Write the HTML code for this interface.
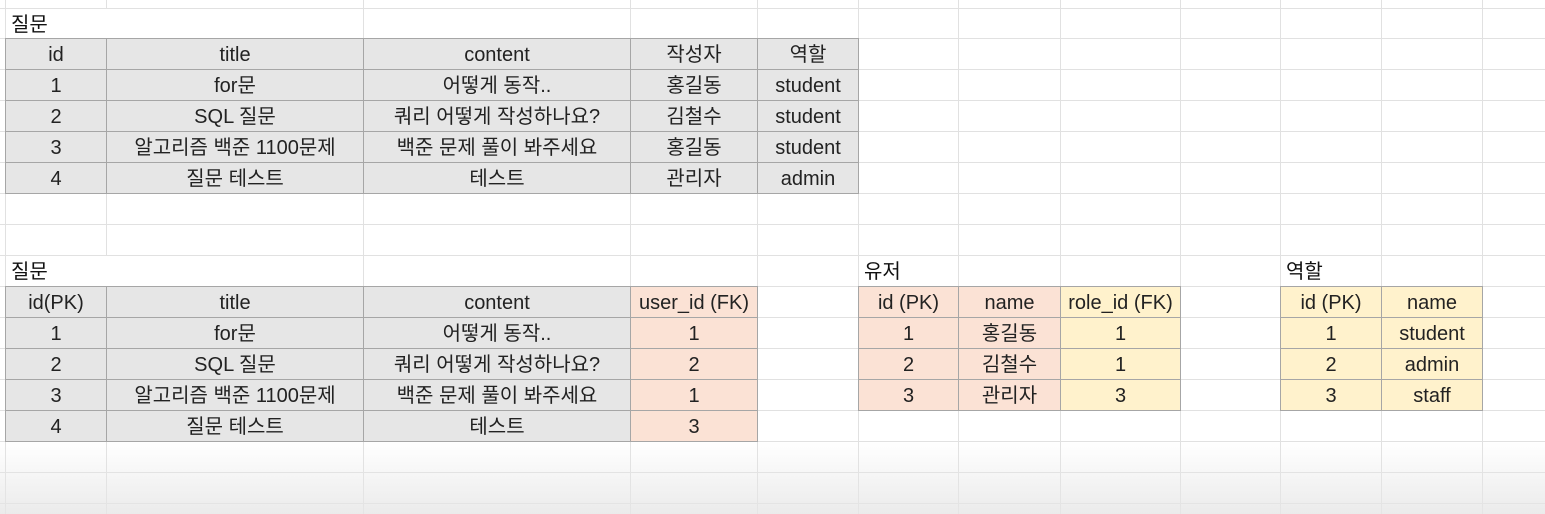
<!DOCTYPE html>
<html><head><meta charset="utf-8"><style>
html,body{margin:0;padding:0}
body{width:1545px;height:514px;position:relative;overflow:hidden;background:#fff;font-family:"Liberation Sans","Noto Sans CJK KR","NanumGothic",sans-serif;}
.gv{position:absolute;top:0;height:514px;width:1px;background:#e1e1e1}
.gh{position:absolute;left:0;width:1545px;height:1px;background:#e1e1e1}
.c{position:absolute;box-sizing:border-box;border:1px solid #a6a6a6;font-size:20px;color:#222;text-align:center;line-height:29px;padding-top:2px;white-space:nowrap}
.lbl{position:absolute;font-size:20px;color:#111;background:#fff;padding-left:5px;padding-top:1px;box-sizing:border-box;line-height:30px}
#fade{position:absolute;left:0;top:442px;width:1545px;height:72px;background:linear-gradient(#ffffff00,#e6e6e6cc);pointer-events:none}
</style></head><body>
<div id="grid"></div>
<div id="cells"></div>
<div id="fade"></div>
<script>
const colX=[5,106,363,630,757,858,958,1060,1180,1280,1381,1482];
const rowY=[8,38,69,100,131,162,193,224,255,286,317,348,379,410,441,472,503];
const G='#e6e6e6',S='#fbe2d5',Y='#fff2cc';
const t1=[["id","title","content","작성자","역할"],["1","for문","어떻게 동작..","홍길동","student"],["2","SQL 질문","쿼리 어떻게 작성하나요?","김철수","student"],["3","알고리즘 백준 1100문제","백준 문제 풀이 봐주세요","홍길동","student"],["4","질문 테스트","테스트","관리자","admin"]];
const t2=[["id(PK)","title","content","user_id (FK)"],["1","for문","어떻게 동작..","1"],["2","SQL 질문","쿼리 어떻게 작성하나요?","2"],["3","알고리즘 백준 1100문제","백준 문제 풀이 봐주세요","1"],["4","질문 테스트","테스트","3"]];
const t3=[["id (PK)","name","role_id (FK)"],["1","홍길동","1"],["2","김철수","1"],["3","관리자","3"]];
const t4=[["id (PK)","name"],["1","student"],["2","admin"],["3","staff"]];
const grid=document.getElementById('grid'),cells=document.getElementById('cells');
colX.concat([1545]).forEach(x=>{const d=document.createElement('div');d.className='gv';d.style.left=x+'px';

grid.appendChild(d);});
rowY.forEach(y=>{const d=document.createElement('div');d.className='gh';d.style.top=y+'px';

grid.appendChild(d);});
function label(txt,c0,c1,r,name){const d=document.createElement('div');d.className='lbl';
d.style.left=(colX[c0]+1)+'px';d.style.top=(rowY[r]+1)+'px';d.style.width=(colX[c1]-colX[c0]-1)+'px';d.style.height=(rowY[r+1]-rowY[r]-1)+'px';d.textContent=txt;

cells.appendChild(d);}
function table(data,c0,r0,colors,name){
 data.forEach((row,ri)=>row.forEach((v,ci)=>{const d=document.createElement('div');d.className='c';
 const x=colX[c0+ci],y=rowY[r0+ri];
 d.style.left=x+'px';d.style.top=y+'px';d.style.width=(colX[c0+ci+1]-x+1)+'px';d.style.height=(rowY[r0+ri+1]-y+1)+'px';
 d.style.background=colors[ci];
 d.textContent=v;
 
 cells.appendChild(d);}));}
label('질문',0,2,0,'table1-title');
table(t1,0,1,[G,G,G,G,G],'question-table');
label('질문',0,2,8,'table2-title');
table(t2,0,9,[G,G,G,S],'question-fk-table');
label('유저',5,6,8,'user-table-title');
table(t3,5,9,[S,S,Y],'user-table');
label('역할',9,10,8,'role-table-title');
table(t4,9,9,[Y,Y],'role-table');
</script>
</body></html>
